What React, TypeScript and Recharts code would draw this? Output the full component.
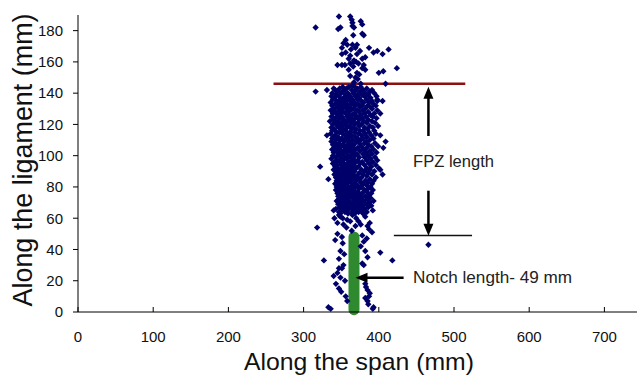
import { ScatterChart, Scatter, XAxis, YAxis, ReferenceLine, ReferenceDot, Label } from "recharts"

const FONT = "'Liberation Sans', Arial, sans-serif"
const POINT_COLOR = "#00006b"

const spanTicks = [0, 100, 200, 300, 400, 500, 600, 700]
const ligamentTicks = [0, 20, 40, 60, 80, 100, 120, 140, 160, 180]

// points above the FPZ line: [span, ligament]
const upperPoints: [number, number][] = [
  [347, 189], [316, 182], [362, 189], [364, 187], [365, 185], [365, 183], [367, 182],
  [376, 186], [378, 184], [380, 177], [346, 181], [349, 182], [366, 177], [378, 178],
  [353, 172], [358, 171], [365, 171], [371, 171], [356, 174], [351, 169], [369, 169],
  [387, 169], [393, 166], [398, 167], [405, 165], [413, 168], [351, 165], [356, 166],
  [362, 164], [371, 165], [360, 162], [367, 161], [424, 156], [400, 153], [406, 154],
  [409, 146], [345, 158], [351, 158], [362, 159], [373, 159], [380, 158], [378, 156],
  [371, 153], [369, 150], [367, 147], [365, 145], [360, 155], [374, 152], [366, 157],
  [372, 149], [376, 146], [362, 151], [355, 158], [378, 162], [382, 155], [367, 160],
  [363, 168], [375, 167], [382, 163], [370, 160],
]

// dense core of the process zone, one row per ligament height: [ligament, spans]
const coreRows: [number, number[]][] = [
  [144, [352, 360, 368, 376]],
  [143, [340, 348, 357, 371, 384]],
  [142, [331, 342, 355, 364, 379, 391]],
  [141, [316, 345, 352, 368, 375, 388]],
  [140, [338, 350, 359, 366, 382, 394]],
  [139, [343, 356, 372, 378, 386]],
  [138, [337, 347, 362, 369, 381, 397]],
  [137, [341, 353, 359, 374, 389]],
  [136, [339, 349, 357, 365, 372, 384, 398]],
  [135, [344, 355, 362, 377, 391, 398, 405]],
  [134, [336, 346, 351, 368, 380, 387]],
  [133, [342, 358, 364, 373, 393]],
  [132, [338, 348, 354, 369, 378, 385, 396]],
  [131, [345, 352, 361, 375, 389]],
  [130, [340, 350, 357, 366, 382, 391]],
  [129, [336, 347, 363, 371, 379, 398]],
  [128, [343, 353, 359, 374, 386]],
  [127, [339, 349, 356, 368, 381, 394, 402]],
  [126, [345, 361, 365, 376, 389]],
  [125, [337, 351, 358, 371, 383, 392]],
  [124, [342, 348, 363, 369, 378, 397]],
  [123, [340, 354, 360, 374, 386]],
  [122, [335, 346, 352, 366, 380, 391]],
  [121, [343, 357, 363, 372, 384, 395]],
  [120, [339, 349, 355, 368, 377]],
  [119, [345, 351, 361, 374, 388, 399]],
  [118, [337, 347, 358, 366, 381, 392]],
  [117, [341, 353, 364, 370, 385]],
  [116, [338, 350, 356, 375, 379, 394]],
  [115, [344, 348, 362, 368, 387]],
  [114, [336, 352, 359, 373, 382, 396]],
  [113, [331, 342, 355, 364, 377, 390, 402]],
  [112, [340, 346, 361, 369, 384]],
  [111, [338, 351, 357, 372, 379, 393]],
  [110, [343, 349, 365, 376, 388]],
  [109, [337, 354, 360, 370, 383, 409]],
  [108, [342, 347, 363, 374, 381, 395]],
  [107, [339, 352, 358, 367, 386]],
  [106, [345, 350, 362, 377, 390, 399]],
  [105, [341, 355, 365, 372, 384, 406]],
  [104, [338, 348, 359, 369, 380, 393]],
  [103, [344, 353, 362, 375, 388]],
  [102, [340, 350, 357, 366, 383, 397]],
  [101, [346, 352, 364, 371, 379, 391]],
  [100, [339, 348, 359, 368, 386]],
  [99, [343, 355, 362, 374, 381, 395]],
  [98, [337, 350, 357, 366, 389]],
  [97, [345, 352, 364, 372, 384, 398]],
  [96, [341, 348, 360, 369, 378, 392]],
  [95, [339, 354, 363, 375, 387]],
  [94, [344, 350, 358, 367, 381, 396]],
  [93, [322, 342, 356, 362, 373, 390]],
  [92, [346, 352, 365, 370, 384, 400]],
  [91, [340, 349, 359, 377, 388, 402]],
  [90, [343, 355, 363, 368, 381, 394]],
  [89, [345, 351, 360, 374, 386]],
  [88, [341, 348, 357, 366, 379, 391, 405]],
  [87, [347, 354, 363, 371, 384]],
  [86, [343, 350, 359, 368, 377, 396]],
  [85, [333, 346, 356, 365, 374, 388]],
  [84, [344, 352, 361, 370, 382, 393]],
  [83, [348, 355, 363, 376, 386]],
  [82, [342, 350, 358, 367, 379, 391]],
  [81, [346, 353, 365, 372, 384]],
  [80, [344, 351, 360, 369, 377, 389]],
  [79, [348, 356, 363, 374, 386]],
  [78, [343, 352, 359, 367, 381, 392]],
  [77, [347, 355, 364, 372, 384]],
  [76, [345, 350, 361, 369, 378, 390]],
  [75, [349, 357, 366, 375, 387]],
  [74, [346, 353, 362, 371, 382]],
  [73, [350, 358, 365, 377, 389]],
  [72, [347, 355, 368, 374, 385]],
  [71, [344, 352, 361, 370, 380, 393]],
  [70, [349, 358, 366, 376, 388]],
  [69, [346, 354, 363, 372, 383]],
  [68, [351, 359, 368, 378, 390]],
  [67, [348, 356, 364, 374, 386]],
  [66, [343, 353, 361, 370, 381]],
  [65, [340, 350, 358, 367, 377, 392]],
  [64, [347, 355, 365, 373, 384]],
  [63, [349, 359, 368, 379]],
]

// scattered points below the core, around the notch
const lowerPoints: [number, number][] = [
  [318, 54], [327, 33], [402, 38], [418, 33], [349, 61], [345, 50], [342, 46], [349, 39],
  [347, 34], [347, 28], [351, 28], [345, 25], [349, 22], [340, 23], [347, 15], [356, 10],
  [333, 3], [336, 2], [378, 49], [380, 45], [382, 39], [385, 35], [391, 51], [387, 53],
  [353, 56], [358, 59], [369, 55], [373, 58], [382, 61], [347, 62], [365, 62], [378, 31],
  [380, 30], [382, 18], [385, 14], [387, 10], [385, 7], [393, 3], [358, 7], [382, 9],
  [392, 2], [466, 43], [341, 60], [352, 60], [362, 58], [376, 56], [388, 57], [345, 57],
  [370, 60], [357, 54], [385, 55], [364, 52], [384, 47], [376, 42], [351, 48], [352, 44],
  [354, 37], [353, 30], [343, 18], [355, 20], [350, 13], [383, 16], [388, 12], [386, 5],
]

const points = [
  ...upperPoints.map(([x, y]) => ({ x, y })),
  ...coreRows.flatMap(([y, xs]) => xs.map((x) => ({ x, y }))),
  ...lowerPoints.map(([x, y]) => ({ x, y })),
]

function Diamond({ cx, cy }: any) {
  return (
    <polygon
      points={`${cx},${cy - 3.2} ${cx + 3.2},${cy} ${cx},${cy + 3.2} ${cx - 3.2},${cy}`}
      fill={POINT_COLOR}
    />
  )
}

function SpanTick({ x, y, payload }: any) {
  return (
    <g>
      <line x1={x} x2={x} y1={y} y2={y - 5} stroke="#000" />
      <text x={x} y={y + 30} textAnchor="middle" fontSize={15} fill="#111" fontFamily={FONT}>
        {payload.value}
      </text>
    </g>
  )
}

const arrowHead = (dir: "up" | "down" | "left") => ({ cx, cy }: any) => {
  let pts = ""
  if (dir === "up") pts = `${cx},${cy} ${cx - 5},${cy + 12} ${cx + 5},${cy + 12}`
  if (dir === "down") pts = `${cx},${cy} ${cx - 5},${cy - 12} ${cx + 5},${cy - 12}`
  if (dir === "left") pts = `${cx},${cy} ${cx + 12},${cy - 5} ${cx + 12},${cy + 5}`
  return <polygon points={pts} fill="#000" />
}

const noteText = (text: string, len: number) => ({ cx, cy }: any) => (
  <text x={cx} y={cy + 6} fontSize={17} fill="#222" fontFamily={FONT} textLength={len} lengthAdjust="spacingAndGlyphs">
    {text}
  </text>
)

export default function App() {
  return (
    <div style={{ position: "absolute", left: 0, top: 0, width: 637, height: 376, overflow: "hidden", background: "#fff" }}>
      <ScatterChart width={645} height={376} margin={{ top: 15, right: 3, bottom: 4, left: 0 }}>
        <XAxis
          type="number"
          dataKey="x"
          domain={[0, 750]}
          ticks={spanTicks}
          interval={0}
          tickSize={0}
          tickMargin={0}
          tickLine={false}
          tick={<SpanTick />}
          height={60}
          axisLine={{ stroke: "#000" }}
        >
          <Label
            content={({ viewBox }: any) => (
              <text
                x={viewBox.x + 281}
                y={viewBox.y + 58}
                textAnchor="middle"
                fontSize={24}
                fill="#111"
                fontFamily={FONT}
                textLength={230}
                lengthAdjust="spacingAndGlyphs"
              >
                Along the span (mm)
              </text>
            )}
          />
        </XAxis>
        <YAxis
          type="number"
          dataKey="y"
          domain={[0, 190]}
          ticks={ligamentTicks}
          interval={0}
          width={78}
          tickSize={5}
          tickMargin={10}
          tickLine={{ stroke: "#000" }}
          axisLine={{ stroke: "#000" }}
          tick={{ fontSize: 15, fill: "#111", fontFamily: FONT }}
        >
          <Label
            content={({ viewBox }: any) => {
              const x = viewBox.x + 31.7
              const y = viewBox.y + 145
              return (
                <text
                  x={x}
                  y={y}
                  transform={`rotate(-90, ${x}, ${y})`}
                  textAnchor="middle"
                  fontSize={27}
                  fill="#111"
                  fontFamily={FONT}
                  textLength={293}
                  lengthAdjust="spacingAndGlyphs"
                >
                  Along the ligament (mm)
                </text>
              )
            }}
          />
        </YAxis>
        <Scatter data={points} shape={<Diamond />} isAnimationActive={false} />

        <ReferenceLine segment={[{ x: 260, y: 146 }, { x: 515, y: 146 }]} stroke="#8c1010" strokeWidth={2.5} />
        <ReferenceLine segment={[{ x: 420, y: 49 }, { x: 524, y: 49 }]} stroke="#111" strokeWidth={1.5} />
        <ReferenceLine segment={[{ x: 367, y: 1.5 }, { x: 367, y: 48 }]} stroke="#2f8a2f" strokeWidth={11} strokeLinecap="round" />

        <ReferenceLine segment={[{ x: 466, y: 112.6 }, { x: 466, y: 138 }]} stroke="#000" strokeWidth={2.5} />
        <ReferenceDot x={466} y={144.1} r={0} shape={arrowHead("up")} />
        <ReferenceLine segment={[{ x: 466, y: 77.6 }, { x: 466, y: 54 }]} stroke="#000" strokeWidth={2.5} />
        <ReferenceDot x={466} y={48.8} r={0} shape={arrowHead("down")} />
        <ReferenceLine segment={[{ x: 433, y: 21.9 }, { x: 380, y: 21.9 }]} stroke="#000" strokeWidth={2.5} />
        <ReferenceDot x={369} y={21.9} r={0} shape={arrowHead("left")} />

        <ReferenceDot x={445.5} y={96.6} r={0} shape={noteText("FPZ length", 81)} />
        <ReferenceDot x={445.5} y={22.6} r={0} shape={noteText("Notch length- 49 mm", 159)} />
      </ScatterChart>
    </div>
  )
}
